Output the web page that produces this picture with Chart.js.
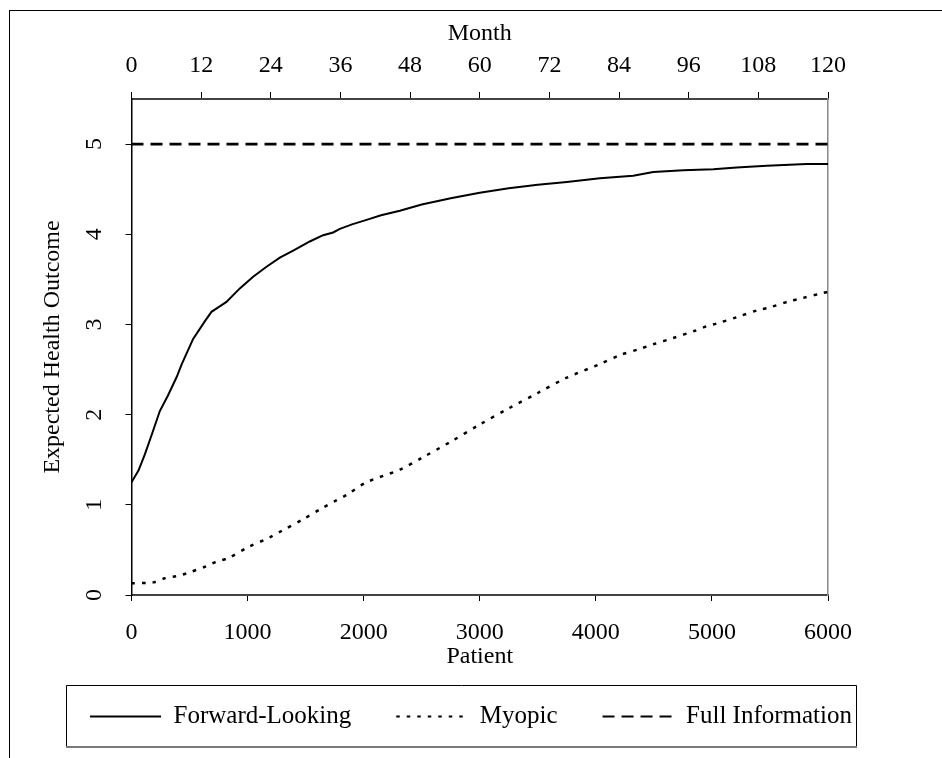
<!DOCTYPE html>
<html>
<head>
<meta charset="utf-8">
<script src="https://cdn.jsdelivr.net/npm/chart.js@4/dist/chart.umd.min.js"></script>
<style>
  html, body { margin: 0; padding: 0; background: #fff; }
  #frame { position: absolute; left: 9px; top: 10px; width: 940px; height: 760px;
           border-top: 1px solid #000; border-left: 1px solid #000; }
  #wrap { position: absolute; left: 0; top: 0; width: 942px; height: 758px; }
</style>
</head>
<body>
<div id="frame"></div>
<div id="wrap"><canvas id="c" width="942" height="758"></canvas></div>
<script>
// ---- data ----
const seriesNames = ['Forward-Looking', 'Myopic', 'Full Information'];

const fwdPatient = [0, 60, 115, 175, 244, 313, 390, 433, 531, 634, 689, 747, 818, 933, 1048, 1163, 1278, 1393, 1536, 1651, 1737, 1795, 1900, 2025, 2150, 2312, 2500, 2750, 3000, 3250, 3500, 3750, 4035, 4322, 4495, 4753, 5012, 5213, 5472, 5816, 6000];
const fwdValues  = [1.25, 1.38, 1.56, 1.78, 2.04, 2.21, 2.42, 2.56, 2.84, 3.04, 3.14, 3.19, 3.25, 3.40, 3.53, 3.64, 3.74, 3.82, 3.92, 3.99, 4.02, 4.06, 4.11, 4.16, 4.21, 4.26, 4.33, 4.40, 4.46, 4.51, 4.55, 4.58, 4.62, 4.65, 4.69, 4.71, 4.72, 4.74, 4.76, 4.78, 4.78];

const myoPatient = [0, 186, 287, 388, 474, 646, 732, 833, 1005, 1192, 1292, 1479, 1651, 1752, 1853, 2025, 2312, 2500, 2750, 3000, 3250, 3500, 3750, 4035, 4208, 4380, 4495, 4667, 4854, 4955, 5041, 5213, 5399, 5500, 5672, 5773, 5959, 6000];
const myoValues  = [0.13, 0.14, 0.185, 0.21, 0.24, 0.32, 0.37, 0.41, 0.53, 0.64, 0.71, 0.84, 0.97, 1.04, 1.11, 1.25, 1.39, 1.52, 1.70, 1.89, 2.07, 2.24, 2.41, 2.56, 2.66, 2.73, 2.78, 2.85, 2.93, 2.98, 3.01, 3.08, 3.16, 3.19, 3.26, 3.29, 3.35, 3.36];

const fullPatient = [0, 6000];
const fullValues  = [5, 5];

const patientTicks = { min: 0, max: 6000, step: 1000 };
const monthTicks   = { min: 0, max: 120, step: 12 };
const outcomeTicks = { min: 0, max: 5.5, step: 1 };

const toXY = (xs, ys) => xs.map((x, i) => ({ x: x, y: ys[i] }));

// ---- styling ----
const FONT = { family: "'Liberation Serif', 'Times New Roman', serif", size: 24 };
const LEGEND_FONT = { family: FONT.family, size: 25 };
Chart.defaults.font.family = FONT.family;
Chart.defaults.font.size = FONT.size;
Chart.defaults.color = '#000';

const plainNumber = (v) => String(v);

const legendFrame = {
  id: 'legendFrame',
  afterDraw(chart) {
    const hb = chart.legend && chart.legend.legendHitBoxes;
    if (!hb || !hb.length) return;
    const ctx = chart.ctx;
    const first = hb[0], last = hb[hb.length - 1];
    const cy = first.top + first.height / 2;
    const x0 = Math.round(first.left - 24) + 0.5;
    const x1 = Math.round(last.left + last.width + 4) + 0.5;
    const y0 = Math.round(cy - 31.5) + 0.5;
    const y1 = Math.round(cy + 30);
    ctx.save();
    ctx.strokeStyle = '#000';
    ctx.lineWidth = 1;
    ctx.beginPath();
    ctx.moveTo(x0, y1); ctx.lineTo(x0, y0); ctx.lineTo(x1, y0); ctx.lineTo(x1, y1);
    ctx.stroke();
    ctx.strokeStyle = '#7a7a7a';
    ctx.lineWidth = 2;
    ctx.beginPath();
    ctx.moveTo(x0 - 0.5, y1); ctx.lineTo(x1 + 0.5, y1);
    ctx.stroke();
    ctx.restore();
  }
};

new Chart(document.getElementById('c'), {
  type: 'line',
  data: {
    datasets: [
      { label: seriesNames[0], data: toXY(fwdPatient, fwdValues), borderColor: '#000', backgroundColor: '#000',
        borderWidth: 2, pointRadius: 0, tension: 0, xAxisID: 'x', yAxisID: 'y' },
      { label: seriesNames[1], data: toXY(myoPatient, myoValues), borderColor: '#000', backgroundColor: '#000',
        borderWidth: 2.5, borderDash: [3.5, 7], pointRadius: 0, tension: 0.3, xAxisID: 'x', yAxisID: 'y' },
      { label: seriesNames[2], data: toXY(fullPatient, fullValues), borderColor: '#000', backgroundColor: '#000',
        borderWidth: 2.7, borderDash: [12, 7], pointRadius: 0, tension: 0, xAxisID: 'x', yAxisID: 'y' }
    ]
  },
  options: {
    responsive: false,
    animation: false,
    devicePixelRatio: 1,
    layout: { padding: { top: 0, left: 0, right: 0, bottom: 19 } },
    plugins: {
      tooltip: { enabled: false },
      legend: {
        position: 'bottom',
        labels: {
          usePointStyle: true,
          pointStyle: 'line',
          pointStyleWidth: 71,
          padding: 45,
          color: '#000',
          font: LEGEND_FONT,
          generateLabels(chart) {
            const items = Chart.defaults.plugins.legend.labels.generateLabels(chart);
            items.forEach((it) => {
              const ds = chart.data.datasets[it.datasetIndex];
              it.lineDash = ds.borderDash || [];
              it.lineWidth = Math.min(ds.borderWidth, 2.2);
              it.strokeStyle = ds.borderColor;
              it.pointStyle = 'line';
            });
            return items;
          }
        }
      }
    },
    scales: {
      x: {
        type: 'linear', position: 'bottom',
        min: patientTicks.min, max: patientTicks.max,
        ticks: { stepSize: patientTicks.step, padding: 17.4, color: '#000', font: FONT, maxRotation: 0, callback: plainNumber },
        grid: { drawOnChartArea: false, drawTicks: true, tickLength: 6, color: '#000', lineWidth: 1 },
        border: { color: '#444', width: 2 },
        title: { display: true, text: 'Patient', color: '#000', font: FONT, padding: { top: 0, bottom: -12.6 } },
        afterFit(s) { s.height = 64; }
      },
      x2: {
        type: 'linear', position: 'top',
        min: monthTicks.min, max: monthTicks.max,
        ticks: { stepSize: monthTicks.step, padding: 11.9, color: '#000', font: FONT, maxRotation: 0, callback: plainNumber },
        grid: { drawOnChartArea: false, drawTicks: true, tickLength: 7, color: '#000', lineWidth: 1 },
        border: { color: '#444', width: 2 },
        title: { display: true, text: 'Month', color: '#000', font: FONT, padding: { top: 19.3, bottom: 0 } },
        afterFit(s) { s.height = 99; }
      },
      y: {
        type: 'linear', position: 'left',
        min: outcomeTicks.min, max: outcomeTicks.max,
        ticks: { stepSize: outcomeTicks.step, includeBounds: false, minRotation: 90, maxRotation: 90,
                 crossAlign: 'center', padding: 25, color: '#000', font: FONT, callback: plainNumber },
        grid: { drawOnChartArea: false, drawTicks: true, tickLength: 6, color: '#000', lineWidth: 1 },
        border: { color: '#000', width: 1.5 },
        title: { display: true, text: 'Expected Health Outcome', color: '#000', font: FONT, padding: { top: 38.4, bottom: 0 } },
        afterFit(s) { s.width = 131.5; }
      },
      y2: {
        type: 'linear', position: 'right',
        min: outcomeTicks.min, max: outcomeTicks.max,
        ticks: { display: false },
        grid: { drawOnChartArea: false, drawTicks: false },
        border: { color: '#8a8a8a', width: 1.5 },
        afterFit(s) { s.width = 114; }
      }
    }
  },
  plugins: [legendFrame]
});
</script>
</body>
</html>
